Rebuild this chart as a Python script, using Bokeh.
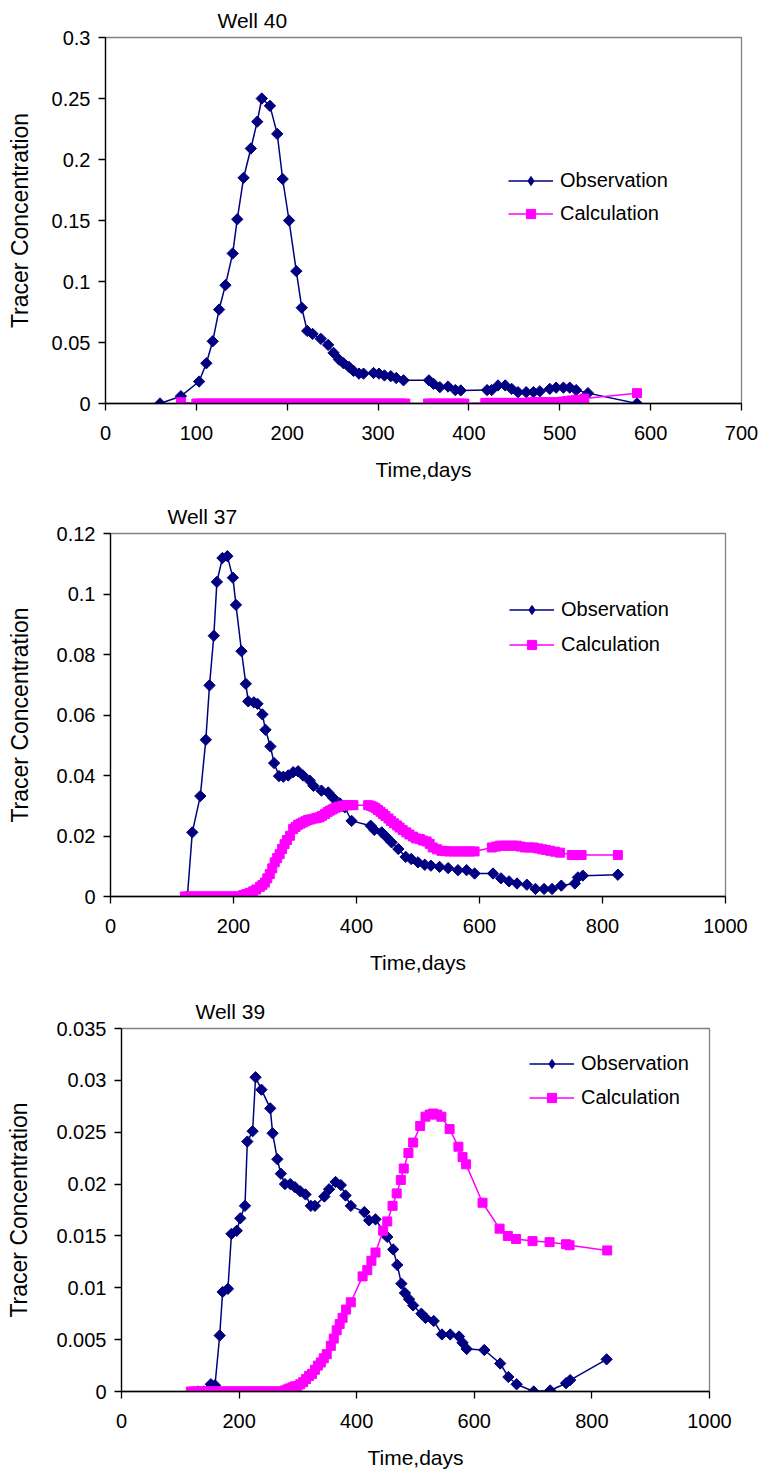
from bokeh.plotting import figure
from bokeh.models import (Range1d, FixedTicker, NumeralTickFormatter, Legend, LegendItem, Title)
from bokeh.layouts import column
from bokeh.embed import file_html
from bokeh.resources import INLINE
import math

# ---------------- DATA ----------------
# Well 40
w40_obs_t = [60, 83, 103, 111, 118, 125, 132, 140, 145, 152, 160, 167, 172, 181, 189, 195, 202, 210, 216, 222,
             228, 237, 245, 251, 257, 262, 268, 273, 279, 284, 295, 301, 307, 314, 320, 328, 356, 361, 368, 377,
             385, 391, 420, 425, 432, 440, 447, 454, 463, 471, 478, 489, 496, 504, 511, 518, 531, 585]
w40_obs_c = [0, 0.006, 0.018, 0.033, 0.051, 0.077, 0.097, 0.123, 0.151, 0.185, 0.209, 0.231, 0.250, 0.244, 0.221,
             0.184, 0.150, 0.1085, 0.0785, 0.0595, 0.057, 0.053, 0.048, 0.0415, 0.036, 0.033, 0.030, 0.0267, 0.0245,
             0.0245, 0.025, 0.0245, 0.023, 0.0224, 0.0209, 0.019, 0.019, 0.0161, 0.0134, 0.0139, 0.011, 0.0107,
             0.011, 0.011, 0.0148, 0.0148, 0.012, 0.0093, 0.0093, 0.0093, 0.010, 0.012, 0.013, 0.013, 0.013, 0.011,
             0.0085, 0]
w40_calc_t = [83, 100, 105, 110, 115, 120, 125, 130, 135, 140, 145, 150, 155, 160, 165, 170, 175, 180, 185, 190,
              195, 200, 205, 210, 215, 220, 225, 230, 235, 240, 245, 250, 255, 260, 265, 270, 275, 280, 285, 290,
              295, 300, 305, 310, 315, 320, 325, 330, 355, 360, 365, 370, 375, 380, 385, 390, 395, 418, 423, 428,
              433, 438, 443, 448, 453, 458, 463, 468, 473, 478, 483, 488, 493, 498, 503, 508, 513, 518, 527, 585]
w40_calc_c = [0.001, 0, 0, 0, 0, 0, 0, 0, 0, 0, 0, 0, 0, 0, 0, 0, 0, 0, 0, 0,
              0, 0, 0, 0, 0, 0, 0, 0, 0, 0, 0, 0, 0, 0, 0, 0, 0, 0, 0, 0,
              0, 0, 0, 0, 0, 0, 0, 0, 0, 0, 0, 0, 0, 0, 0, 0, 0, 0.0005, 0.0005, 0.0005,
              0.0005, 0.0005, 0.0005, 0.0005, 0.0005, 0.0005, 0.0005, 0.001, 0.001, 0.001, 0.001, 0.001, 0.001, 0.001,
              0.0015, 0.002, 0.0025, 0.003, 0.004, 0.0085]

# Well 37
w37_obs_t = [125, 133, 146, 155, 161, 168, 173, 182, 190, 199, 204, 213, 220, 224, 233, 239, 247, 252, 260, 266,
             274, 281, 289, 297, 305, 313, 324, 330, 343, 354, 362, 373, 381, 392, 423, 429, 441, 448, 457, 468,
             480, 489, 500, 511, 521, 535, 549, 565, 579, 592, 622, 635, 648, 661, 677, 691, 705, 718, 733, 755,
             760, 768, 825]
w37_obs_c = [0, 0.0212, 0.0332, 0.0518, 0.0698, 0.0862, 0.104, 0.1119, 0.1125, 0.1054,
             0.0964, 0.0811, 0.0703, 0.0645, 0.0642, 0.0637, 0.0602, 0.0551, 0.0496, 0.0441,
             0.0398, 0.0396, 0.040, 0.0411, 0.0414, 0.040, 0.0383, 0.0366, 0.035, 0.0344,
             0.0326, 0.0308, 0.0295, 0.025, 0.0234, 0.022, 0.0212, 0.0198, 0.0179, 0.0157,
             0.0131, 0.0124, 0.0113, 0.0105, 0.0102, 0.0098, 0.0094, 0.0087, 0.0087, 0.0076,
             0.0076, 0.006, 0.005, 0.0043, 0.0039, 0.0025, 0.0025, 0.0025, 0.0036, 0.0043,
             0.0063, 0.0069, 0.0072]
w37_calc_t = [121, 126, 131, 136, 141, 146, 151, 156, 161, 166, 171, 176, 181, 186, 191, 196, 201, 206, 211,
              216, 221, 226, 232, 237, 243, 247, 251, 255, 259, 263, 267, 271, 275, 279, 283, 287, 292, 297, 301,
              305, 309, 313, 317, 321, 326, 332, 336, 340, 344, 349, 353, 357, 361, 365, 370, 376, 381, 386, 390,
              395, 419, 423, 427, 431, 435, 439, 443, 447, 452, 456, 461, 466, 470, 475, 481, 486, 492, 497, 503,
              508, 514, 519, 524, 531, 538, 544, 551, 558, 565, 572, 579, 585, 592, 620, 627, 633, 640, 647, 654,
              661, 667, 674, 681, 688, 695, 702, 708, 715, 723, 731, 750, 758, 766, 825]
w37_calc_c = [0, 0, 0, 0, 0, 0, 0, 0, 0, 0, 0, 0, 0, 0, 0, 0, 0, 0, 0,
              0.0005, 0.0008, 0.0012, 0.0017, 0.0023, 0.0032, 0.0038, 0.0046, 0.006, 0.0074, 0.0093, 0.0113, 0.0127,
              0.014, 0.0157, 0.0173, 0.0187, 0.0201, 0.0223, 0.023,
              0.0237, 0.0241, 0.0245, 0.0249, 0.0253, 0.0255, 0.0258, 0.026, 0.0262, 0.0267, 0.0273, 0.0279, 0.0284,
              0.0288, 0.0292, 0.0296, 0.030, 0.0301, 0.0302, 0.0302,
              0.0302, 0.0302, 0.030, 0.0297, 0.0292, 0.0286, 0.028, 0.0273, 0.0266, 0.0258, 0.025, 0.0242, 0.0235,
              0.0228, 0.022, 0.0212, 0.0205, 0.0198, 0.0192, 0.019,
              0.0185, 0.0182, 0.0174, 0.0162, 0.0156, 0.0151, 0.015, 0.0149, 0.0149, 0.0149, 0.0149, 0.0149, 0.0149,
              0.0149, 0.0162, 0.0165, 0.0168, 0.0168, 0.0168, 0.0168,
              0.0168, 0.0165, 0.0162, 0.0162, 0.0162, 0.0159, 0.0156, 0.0154, 0.0151, 0.0148, 0.0145, 0.0137, 0.0137,
              0.0137, 0.0137]

# Well 39
w39_obs_t = [130, 140, 147, 152, 159, 167, 172, 181, 187, 196, 202, 210, 214, 223, 228, 238, 253, 257, 265, 271,
             278, 287, 295, 304, 313, 322, 329, 345, 353, 364, 373, 381, 390, 413, 421, 432, 452, 462, 469, 476,
             482, 489, 496, 510, 517, 531, 545, 559, 574, 580, 587, 617, 644, 658, 672, 701, 729, 756, 763, 825]
w39_obs_c = [0, 0, 0.0001, 0.0007, 0.0006, 0.0054, 0.0096, 0.0099, 0.0152, 0.0155, 0.0167, 0.0179, 0.0241, 0.0251,
             0.0303, 0.0291, 0.0273, 0.0249, 0.0224, 0.021,
             0.020, 0.020, 0.0197, 0.0193, 0.019, 0.0179, 0.0179, 0.0188, 0.0195, 0.0202, 0.0199, 0.0189, 0.0179,
             0.0173, 0.0165, 0.0166, 0.0149, 0.0137, 0.0122, 0.0104,
             0.0095, 0.0089, 0.0083, 0.0075, 0.0071, 0.0068, 0.0055, 0.0055, 0.0053, 0.0047, 0.0041, 0.0040, 0.0027,
             0.0014, 0.0007, 0.0, 0.0001, 0.0008, 0.0011, 0.0031]
w39_calc_t = [118, 123, 128, 133, 138, 143, 148, 153, 158, 163, 168, 173, 178, 183, 188, 193, 198, 203, 208, 213,
              218, 223, 228, 233, 238, 243, 248, 253, 258, 263, 268, 273,
              278, 282, 286, 291, 295, 299, 304, 309, 314, 319, 324, 329, 334, 339, 344, 349, 356, 361, 366, 371,
              376, 382, 390, 410, 418, 425, 432, 445, 452, 461, 468, 475, 480, 488, 496, 508, 517, 524, 530, 537,
              544, 558, 573, 580, 586, 614, 643, 657, 671, 699, 728, 756, 762, 826]
w39_calc_c = [0, 0, 0, 0, 0, 0, 0, 0, 0, 0, 0, 0, 0, 0, 0, 0, 0, 0, 0, 0,
              0, 0, 0, 0, 0, 0, 0, 0, 0, 0, 0, 0,
              0.0001, 0.0002, 0.0003, 0.0004, 0.0005, 0.0005, 0.0007, 0.0009, 0.0012, 0.0015, 0.0017, 0.0021, 0.0025,
              0.0028, 0.0032, 0.0036, 0.0044, 0.0051, 0.0059, 0.0065,
              0.0071, 0.0079, 0.0086, 0.0111, 0.0117, 0.0126, 0.0134, 0.0155, 0.0164, 0.0179, 0.0191, 0.0204, 0.0215,
              0.023, 0.024, 0.0256, 0.0265, 0.0267, 0.0268, 0.0267,
              0.0265, 0.0253, 0.0236, 0.0226, 0.0219, 0.0182, 0.0157, 0.015, 0.0147, 0.0145, 0.0144, 0.0142, 0.0141,
              0.0136]

titles = ["Well 40", "Well 37", "Well 39"]
x_label = "Time,days"
y_label = "Tracer Concentration"
series_names = ["Observation", "Calculation"]
x_maxes = [700, 1000, 1000]
x_ticks = [[0, 100, 200, 300, 400, 500, 600, 700],
           [0, 200, 400, 600, 800, 1000],
           [0, 200, 400, 600, 800, 1000]]
y_maxes = [0.3, 0.12, 0.035]
y_ticks = [[0, 0.05, 0.1, 0.15, 0.2, 0.25, 0.3],
           [0, 0.02, 0.04, 0.06, 0.08, 0.1, 0.12],
           [0, 0.005, 0.01, 0.015, 0.02, 0.025, 0.03, 0.035]]

FONT = "Liberation Sans"
NAVY = "#000080"
MAGENTA = "#FF00FF"

# layout specs: (height, left, right, top, bottom, title_offset, legend_x, legend_y, legend_spacing, ylabel_standoff)
specs = [
    (490, 105, 21, 37, 87, 112, 403, 178, 10, 16),
    (495, 110, 37, 43, 89, 57, 399, 240, 12, 21),
    (488, 121, 53, 43, 82, 74, 408, 282, 11, 21),
]

data = [
    (w40_obs_t, w40_obs_c, w40_calc_t, w40_calc_c),
    (w37_obs_t, w37_obs_c, w37_calc_t, w37_calc_c),
    (w39_obs_t, w39_obs_c, w39_calc_t, w39_calc_c),
]

figs = []
for i in range(3):
    H, L, R, T, B, toff, lx, ly, lsp, ylstand = specs[i]
    ot, oc, ct, cc = data[i]
    p = figure(width=762, height=H, output_backend="svg", toolbar_location=None,
               x_range=Range1d(0, x_maxes[i]), y_range=Range1d(0, y_maxes[i]),
               min_border_left=L, min_border_right=R, min_border_top=T, min_border_bottom=B)
    p.frame_align = False
    p.title = Title(text=titles[i], align="left", offset=toff, text_font=FONT,
                    text_font_size="21px", text_font_style="normal", text_color="black", standoff=12)
    p.grid.visible = False
    p.outline_line_color = "#808080"
    p.outline_line_width = 1.3
    p.background_fill_color = "white"
    p.border_fill_color = "white"

    for ax in (p.xaxis[0], p.yaxis[0]):
        ax.axis_line_color = "black"
        ax.axis_line_width = 1.3
        ax.major_tick_line_color = "black"
        ax.major_tick_line_width = 1.3
        ax.major_tick_out = 7
        ax.major_tick_in = 0
        ax.minor_tick_line_color = None
        ax.major_label_text_font = FONT
        ax.major_label_text_font_size = "20px"
        ax.major_label_text_color = "black"
        ax.axis_label_text_font = FONT
        ax.axis_label_text_font_style = "normal"
        ax.axis_label_text_color = "black"

    p.xaxis[0].axis_label_text_font_size = "21px"
    p.yaxis[0].axis_label_text_font_size = "23px"
    p.xaxis[0].ticker = FixedTicker(ticks=x_ticks[i])
    p.yaxis[0].ticker = FixedTicker(ticks=y_ticks[i])
    p.yaxis[0].formatter = NumeralTickFormatter(format="0.[000]")
    p.xaxis[0].axis_label = x_label
    p.yaxis[0].axis_label = y_label
    p.xaxis[0].major_label_standoff = 15
    p.xaxis[0].axis_label_standoff = 15
    p.yaxis[0].major_label_standoff = 8
    p.yaxis[0].axis_label_standoff = ylstand

    l1 = p.line(ot, oc, line_color=NAVY, line_width=1.5)
    # small diamond hidden under each rotated square; it gives the legend its diamond symbol
    d1 = p.scatter(ot, oc, marker="diamond", size=6, fill_color=NAVY, line_color=NAVY, line_width=1)
    p.scatter(ot, oc, marker="square", size=8, angle=math.pi / 4,
              fill_color=NAVY, line_color=NAVY, line_width=1)
    l2 = p.line(ct, cc, line_color=MAGENTA, line_width=1.5)
    s2 = p.scatter(ct, cc, marker="square", size=9, fill_color=MAGENTA, line_color=MAGENTA, line_width=1)

    legend = Legend(items=[LegendItem(label=series_names[0], renderers=[l1, d1]),
                           LegendItem(label=series_names[1], renderers=[l2, s2])],
                    location=(lx, ly), border_line_color=None, background_fill_alpha=0,
                    padding=0, margin=0, spacing=lsp, glyph_width=45, glyph_height=23,
                    label_height=23, label_standoff=7, label_text_font=FONT,
                    label_text_font_size="20px", label_text_color="black")
    p.add_layout(legend, "center")
    figs.append(p)

layout = column(*figs, spacing=0)
open("out.html", "w").write(file_html(layout, INLINE))
